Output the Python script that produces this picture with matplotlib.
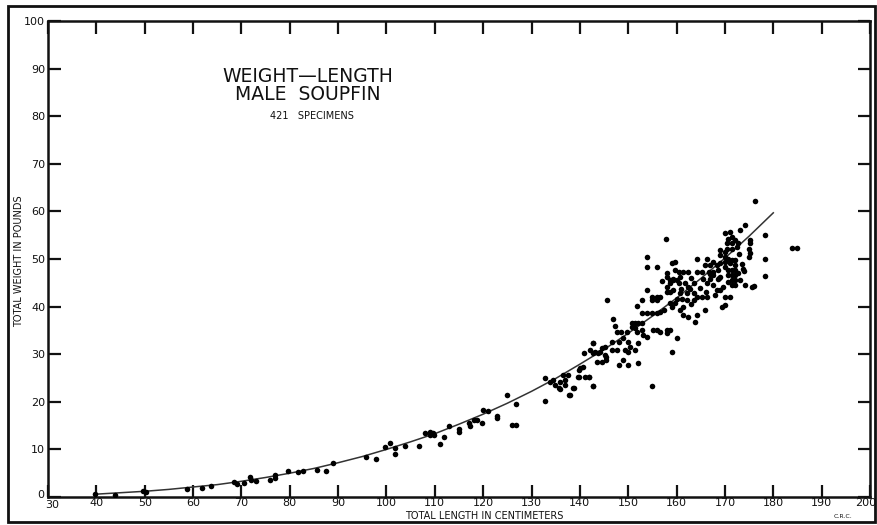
import matplotlib
matplotlib.use("Agg")
import matplotlib.pyplot as plt
from matplotlib.patches import Rectangle
from matplotlib.transforms import ScaledTranslation

# ---- data (length cm, weight lb) ----
length_cm = [
    39.7, 43.9, 49.6, 50.2, 58.7, 61.9, 63.7, 68.5, 69.0, 70.5, 71.8, 72.0, 73.0,
    76.0, 77.0, 77.0, 79.6, 81.7, 82.7, 85.6, 87.5, 88.9, 95.8, 97.8, 99.7, 100.7,
    101.8, 101.8, 103.8, 106.8,
    108.0, 108.9, 109.7, 109.0, 109.8, 111.0, 111.8, 112.9, 114.9, 114.9,
    117.0, 117.3, 118.0, 118.7, 119.7, 120.0, 120.9, 122.8, 122.8, 124.9,
    125.9, 126.8, 126.8, 132.8, 132.8, 133.9, 134.5, 134.9, 135.6, 135.9, 135.9,
    136.6, 136.9, 137.0, 137.6, 137.8, 138.7, 139.9, 139.9, 140.9, 141.9, 142.8,
    142.8, 142.8, 143.7, 138.6, 138.0,
    # 140-160 cluster
    153.8, 153.8, 155.9, 159.0, 145.7, 152.8, 153.8, 151.8, 154.9, 155.9, 156.6,
    155.9, 154.9, 158.0, 158.0, 158.7, 158.7, 159.3, 157.0, 158.0, 158.7, 158.0,
    152.8, 153.8, 154.9, 155.9, 156.6, 157.3, 158.7, 159.0, 159.7, 150.7, 151.4,
    152.1, 152.8, 150.7, 151.4, 151.8, 152.8, 153.1, 153.8, 155.2, 155.9, 156.6,
    158.0, 158.0, 158.7, 160.0, 147.6, 148.6, 149.7, 146.6, 148.0, 149.0, 150.0,
    150.4, 149.3, 150.0, 151.4, 152.1, 142.8, 144.5, 145.2, 144.2, 143.1, 142.1,
    145.2, 145.5, 146.6, 147.6, 145.5, 144.5, 143.5, 148.0, 149.0, 150.0, 152.1,
    140.7, 140.0, 141.1, 139.7, 141.8, 142.8, 154.9, 159.0, 157.9, 146.8, 147.2,
    # 160-185 cluster
    170.0, 171.1, 171.4, 170.7, 170.4, 171.4, 172.1, 172.8, 172.4, 171.4, 170.4,
    175.2, 175.2, 174.9, 175.2, 174.9, 178.3, 178.3, 169.0, 169.0, 170.0, 170.0,
    170.7, 171.4, 172.1, 170.0, 171.1, 172.1, 169.0, 170.0, 170.7, 171.4, 172.1,
    170.7, 171.4, 172.1, 171.4, 172.1, 170.7, 171.4, 172.1, 173.1, 174.2, 175.5,
    164.2, 166.2, 165.9, 166.9, 167.6, 168.3, 168.6, 167.6, 166.6, 165.2, 164.2,
    167.6, 166.9, 165.5, 166.2, 167.6, 168.6, 169.0, 168.3, 169.0, 169.7, 165.2,
    166.2, 168.0, 170.0, 171.1, 169.3, 170.0, 159.7, 159.7, 160.4, 161.4, 162.4,
    160.7, 159.3, 160.0, 160.4, 161.8, 162.4, 162.8, 163.5, 159.3, 160.7, 162.1,
    163.5, 164.2, 160.0, 161.1, 162.1, 163.5, 161.4, 160.7, 161.4, 162.4, 164.2,
    165.9, 176.2, 174.2, 173.1, 178.3, 183.9, 184.9, 173.8, 172.6, 176.1, 163.0,
    164.8, 167.0, 168.8, 162.9, 161.0, 163.8, 166.0, 173.5, 174.0, 172.9,
]
weight_lb = [
    0.6, 0.4, 1.3, 1.0, 1.7, 1.9, 2.3, 3.2, 2.7, 2.9, 4.2, 3.6, 3.3,
    3.6, 4.6, 4.0, 5.5, 5.3, 5.5, 5.7, 5.5, 7.1, 8.4, 8.0, 10.6, 11.3,
    10.2, 9.0, 10.7, 10.7,
    13.4, 13.7, 13.5, 13.0, 13.0, 11.1, 12.7, 14.9, 14.2, 13.7,
    15.5, 14.9, 16.2, 16.2, 15.6, 18.3, 18.1, 17.0, 16.5, 21.4,
    15.1, 15.1, 19.5, 24.9, 20.2, 24.2, 24.6, 23.5, 22.8, 24.2, 22.6,
    25.6, 23.5, 24.6, 25.6, 21.4, 22.8, 25.3, 26.7, 30.3, 25.3, 32.4,
    30.3, 23.3, 30.3, 22.8, 21.4,
    50.4, 48.3, 48.3, 49.2, 41.3, 41.3, 43.4, 40.1, 42.1, 42.1, 42.1,
    41.4, 41.4, 47.0, 46.3, 45.6, 44.9, 45.6, 45.3, 43.1, 43.1, 44.2,
    38.6, 38.6, 38.6, 38.6, 38.9, 39.3, 40.7, 40.0, 40.7, 36.5, 36.5,
    36.5, 36.5, 35.8, 35.4, 34.7, 35.1, 34.0, 33.7, 35.1, 35.1, 34.7,
    35.1, 34.4, 35.1, 33.3, 34.7, 34.7, 34.7, 32.6, 32.6, 33.3, 32.6,
    31.6, 30.9, 30.5, 30.9, 32.3, 32.3, 31.2, 31.6, 30.5, 30.5, 30.9,
    29.8, 28.8, 30.9, 30.9, 29.5, 28.4, 28.4, 27.7, 28.8, 27.7, 28.1,
    27.4, 27.0, 25.3, 25.3, 25.3, 23.3, 23.3, 30.5, 54.1, 37.5, 36.0,
    55.4, 55.7, 54.7, 54.3, 53.3, 53.3, 54.0, 53.3, 52.6, 52.2, 52.2,
    54.0, 53.3, 52.2, 51.2, 50.5, 50.1, 46.4, 51.9, 50.8, 51.5, 50.5,
    50.1, 49.8, 49.8, 49.4, 49.1, 48.7, 49.1, 48.4, 47.7, 47.7, 47.7,
    46.6, 46.6, 46.6, 45.6, 45.6, 45.2, 44.5, 44.5, 45.6, 44.5, 44.2,
    50.1, 50.1, 48.7, 48.7, 49.4, 48.7, 47.7, 47.3, 47.3, 47.3, 47.3,
    46.6, 45.9, 45.9, 44.9, 44.5, 45.9, 46.3, 43.5, 43.5, 44.2, 42.1,
    42.1, 42.4, 42.1, 42.1, 40.0, 40.3, 49.4, 47.7, 47.3, 47.3, 47.3,
    46.3, 45.9, 45.6, 44.9, 44.9, 44.2, 43.8, 44.9, 43.5, 42.8, 42.8,
    42.8, 42.1, 41.7, 41.7, 41.4, 41.4, 40.0, 39.3, 38.2, 37.9, 38.2,
    39.3, 62.2, 57.1, 56.1, 55.0, 52.3, 52.3, 48.0, 47.0, 44.3, 46.0,
    44.0, 46.8, 46.0, 40.5, 43.6, 36.8, 43.0, 49.0, 47.5, 51.0,
]

# fitted weight-length curve
curve_len = [40, 45, 50, 55, 60, 65, 70, 75, 80, 85, 90, 95, 100, 105, 110, 115, 120,
             125, 130, 135, 140, 145, 150, 155, 160, 165, 170, 175, 180]
curve_wt = [0.6, 0.9, 1.2, 1.6, 2.1, 2.6, 3.3, 4.1, 5.0, 6.0, 7.2, 8.5, 10.0, 11.6,
            13.3, 15.3, 17.4, 19.7, 22.2, 24.9, 27.9, 31.0, 34.4, 38.0, 41.8,
            45.9, 50.2, 54.8, 59.7]

x_ticks = list(range(30, 201, 10))
y_ticks = list(range(0, 101, 10))

fig = plt.figure(figsize=(8.78, 5.25), dpi=100)
ax = fig.add_axes([48 / 878, 28 / 525, 822 / 878, 476 / 525])

ax.plot(curve_len, curve_wt, color="#333333", lw=1.1, zorder=2)
ax.plot(length_cm, weight_lb, "o", color="black", ms=4.0, mec="none", zorder=3)

ax.set_xlim(30, 200)
ax.set_ylim(0, 100)
ax.set_xticks(x_ticks)
ax.set_yticks(y_ticks)
ax.set_xticklabels([str(v) for v in x_ticks])
ax.set_yticklabels([str(v) for v in y_ticks])
ax.tick_params(axis="both", direction="in", length=9, width=1.6, color="#111111",
               labelsize=8, labelcolor="#111111")
ax.tick_params(axis="x", top=True, pad=1)
ax.tick_params(axis="y", right=True, pad=2)
for s in ax.spines.values():
    s.set_linewidth(1.8)
    s.set_color("#111111")

# nudge the corner labels apart, and keep "200" inside the figure
xl = ax.get_xticklabels()
xl[0].set_transform(xl[0].get_transform() + ScaledTranslation(3 / 72, -1 / 72, fig.dpi_scale_trans))
xl[-1].set_transform(xl[-1].get_transform() + ScaledTranslation(-3 / 72, 0, fig.dpi_scale_trans))
yl = ax.get_yticklabels()
yl[0].set_transform(yl[0].get_transform() + ScaledTranslation(-1 / 72, 2 / 72, fig.dpi_scale_trans))

fig.text(484 / 878, 1 - 516 / 525, "TOTAL LENGTH IN CENTIMETERS", ha="center",
         va="center", fontsize=7, color="#111111")
fig.text(19 / 878, 1 - 261 / 525, "TOTAL WEIGHT IN POUNDS", ha="center",
         va="center", rotation=90, fontsize=7, color="#111111")
fig.text(308 / 878, 1 - 76 / 525, "WEIGHT\u2014LENGTH", ha="center", va="center",
         fontsize=13.5, color="#111111")
fig.text(308 / 878, 1 - 95 / 525, "MALE  SOUPFIN", ha="center", va="center",
         fontsize=13.5, color="#111111")
fig.text(312 / 878, 1 - 116 / 525, "421   SPECIMENS", ha="center", va="center",
         fontsize=7, color="#111111")
fig.text(843 / 878, 1 - 517 / 525, "C.R.C.", ha="center", va="center",
         fontsize=4.5, color="#111111")

fig.patches.append(Rectangle((8 / 878, 3 / 525), 867 / 878, 516 / 525,
                             transform=fig.transFigure, fill=False,
                             lw=2.0, edgecolor="#111111"))

fig.savefig("out.png", dpi=100)
